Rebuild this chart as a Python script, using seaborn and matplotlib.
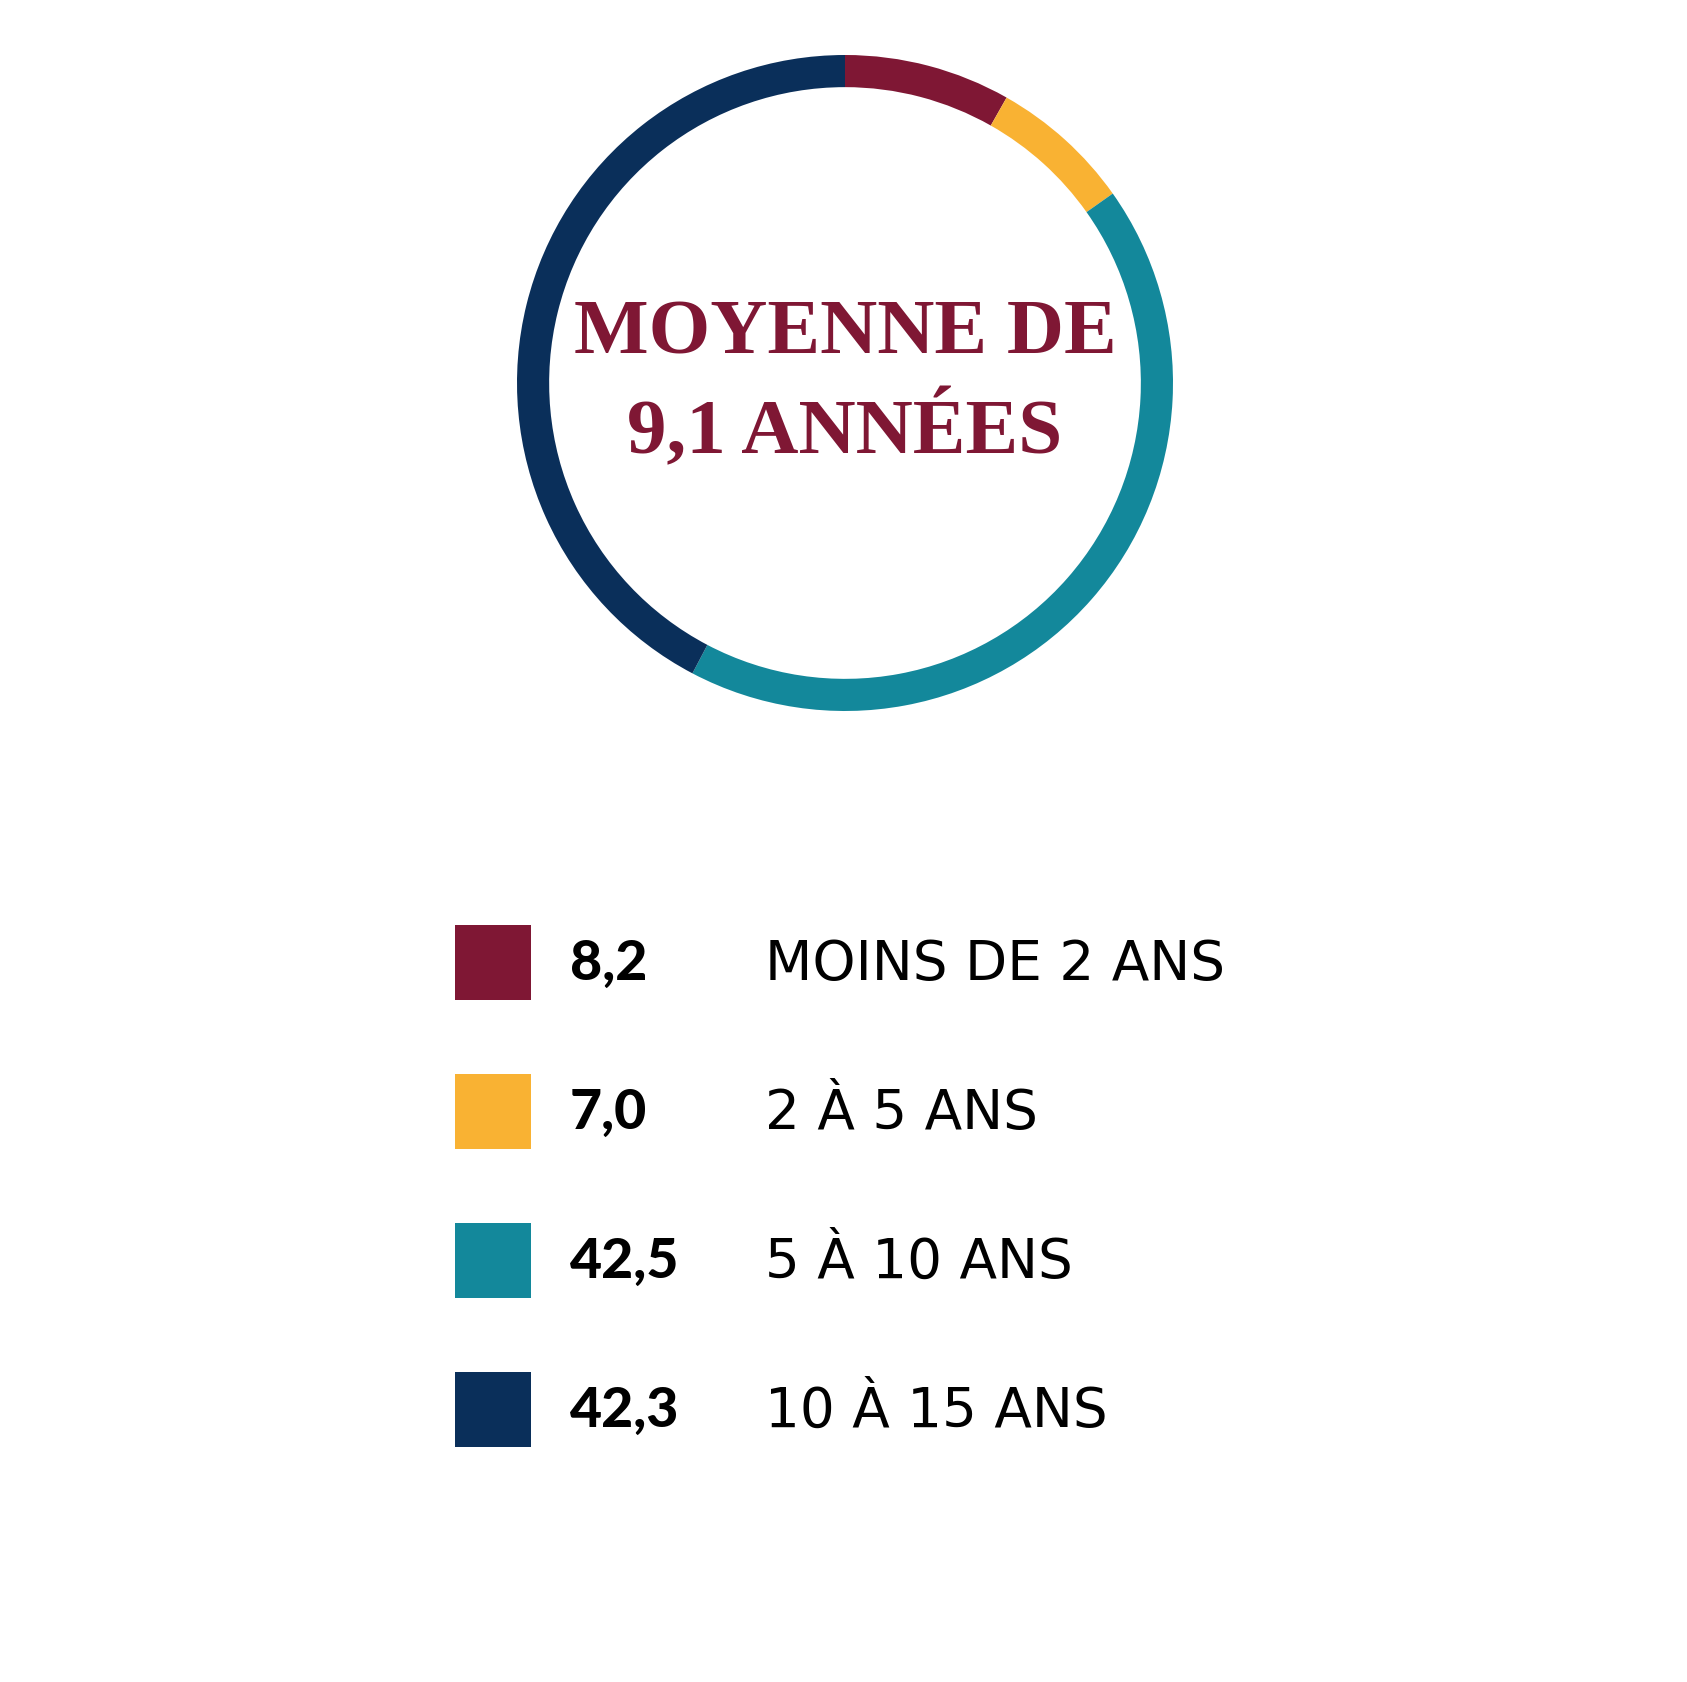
import os
import matplotlib
matplotlib.use("Agg")
import matplotlib.pyplot as plt
import seaborn as sns
from matplotlib import font_manager as fm
from matplotlib.patches import Rectangle

# ---- data ----
values = [8.2, 7.0, 42.5, 42.3]
value_labels = ["8,2", "7,0", "42,5", "42,3"]
categories = ["MOINS DE 2 ANS", "2 À 5 ANS", "5 À 10 ANS", "10 À 15 ANS"]
colors = ["#7f1734", "#f9b233", "#13889b", "#0a2f5a"]
title_lines = ["MOYENNE DE", "9,1 ANNÉES"]

sns.set_theme(style="white")
plt.rcParams["font.family"] = ["DejaVu Sans"]

_files = fm.findSystemFonts()


def font_by_file(names, family, weight="normal"):
    for n in names:
        for f in _files:
            if os.path.basename(f).lower() == n.lower():
                return fm.FontProperties(fname=f)
    return fm.FontProperties(family=family, weight=weight)


title_fp = font_by_file(["LiberationSerif-Bold.ttf"], ["Liberation Serif", "DejaVu Serif"], "bold")
value_fp = font_by_file(["Lato-Heavy.ttf", "Lato-ExtraBold.ttf", "Lato-Bold.ttf"],
                        ["Lato", "DejaVu Sans"], "heavy")
label_fp = font_by_file(["DejaVuSans.ttf"], ["DejaVu Sans"])

W, H = 1687, 1682
fig = plt.figure(figsize=(W / 100, H / 100), dpi=100)
fig.patch.set_facecolor("white")

# donut axes
cx, cy, r = 845, 383, 328
ax = fig.add_axes([(cx - r) / W, 1 - (cy + r) / H, 2 * r / W, 2 * r / H])
ax.pie(values, colors=colors, startangle=90, counterclock=False, radius=1.0,
       wedgeprops=dict(width=0.098, edgecolor="none", linewidth=0))
ax.set_xlim(-1, 1)
ax.set_ylim(-1, 1)
ax.set_aspect("equal")
ax.axis("off")

# overlay axes in pixel coordinates
ov = fig.add_axes([0, 0, 1, 1])
ov.set_xlim(0, W)
ov.set_ylim(H, 0)
ov.axis("off")

for yb, line in zip([353, 453], title_lines):
    ov.text(845, yb, line, ha="center", va="baseline", color=colors[0],
            fontproperties=title_fp, fontsize=57)

tops = [925, 1074, 1223, 1372]
for top, c, v, lab in zip(tops, colors, value_labels, categories):
    ov.add_patch(Rectangle((455, top), 76, 75, color=c, lw=0))
    ov.text(570, top + 55, v, ha="left", va="baseline", color="black",
            fontproperties=value_fp, fontsize=40)
    ov.text(765, top + 55, lab, ha="left", va="baseline", color="black",
            fontproperties=label_fp, fontsize=39.5)

fig.savefig("out.png", dpi=100, facecolor="white")
